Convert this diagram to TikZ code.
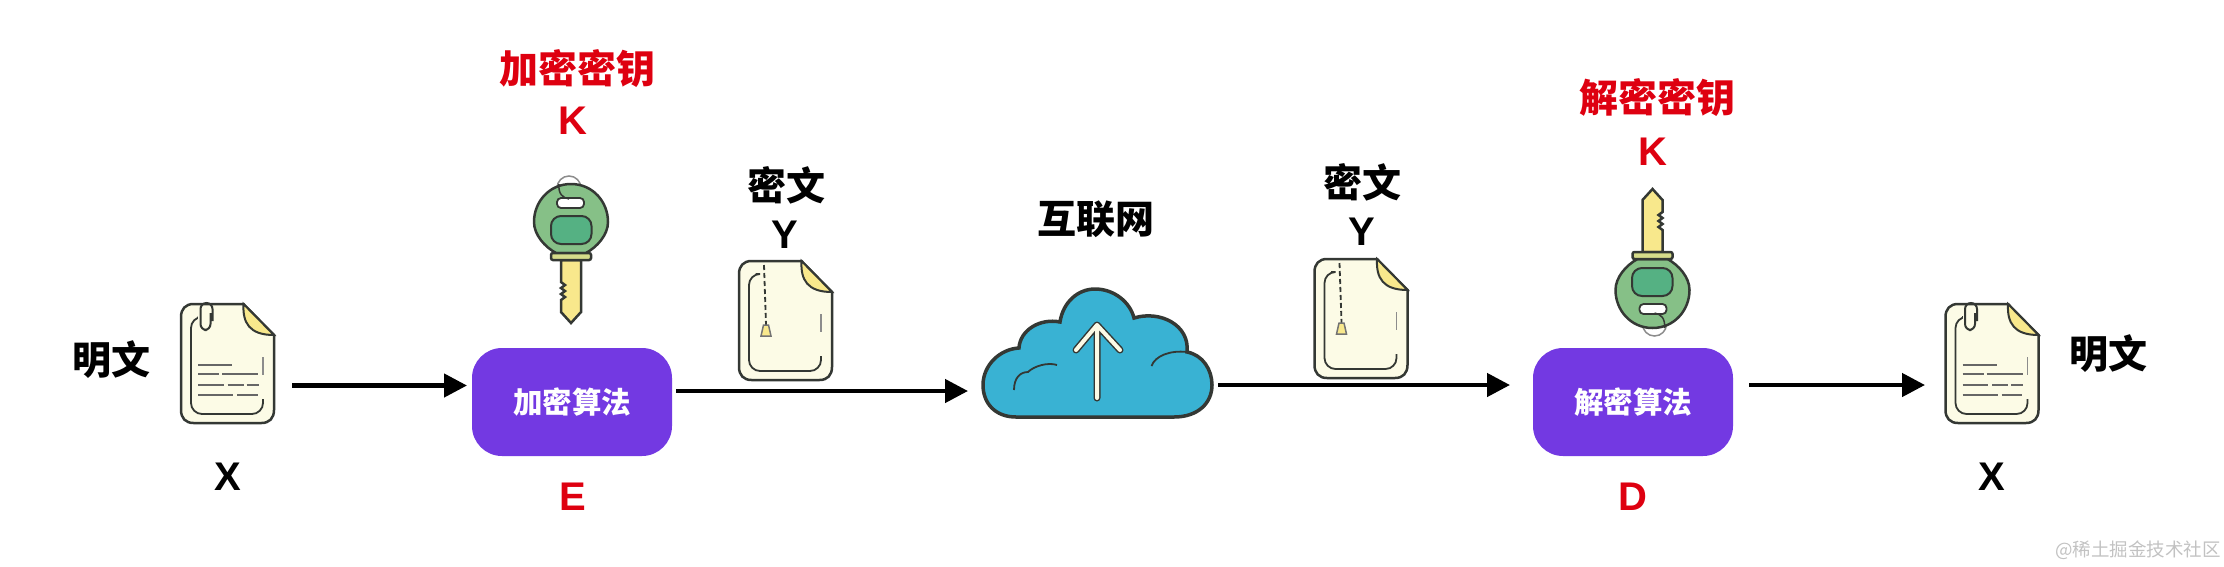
\documentclass[tikz,border=0pt]{standalone}
\usepackage{fontspec}
\usetikzlibrary{arrows.meta}
\setmainfont{Liberation Sans}
\newfontfamily\cjk{Noto Sans CJK SC}

\definecolor{algopurple}{RGB}{115,57,226}
\definecolor{keyred}{RGB}{222,0,16}
\definecolor{inkline}{RGB}{52,56,52}
\definecolor{papercream}{RGB}{252,251,230}
\definecolor{foldyellow}{RGB}{248,232,140}
\definecolor{cloudblue}{RGB}{57,178,211}
\definecolor{keygreen}{RGB}{134,192,135}
\definecolor{paneigreen}{RGB}{85,177,131}

\tikzset{
	algobox/.style={fill=algopurple,rounded corners=30pt,minimum width=200pt,minimum height=108pt,outer sep=0pt,text=white,font=\cjk\fontsize{29.5}{29.5}\selectfont\bfseries},
	docnode/.style={minimum width=93pt,minimum height=120pt,outer sep=0pt,inner sep=0pt},
	cloudnode/.style={minimum width=229pt,minimum height=129pt,outer sep=0pt,inner sep=0pt},
	keynode/.style={minimum width=76pt,minimum height=140pt,outer sep=0pt,inner sep=0pt},
	blacktext/.style={font=\cjk\fontsize{39}{39}\selectfont\bfseries},
	redtext/.style={blacktext,text=keyred},
	letter/.style={font=\fontsize{40}{40}\selectfont\bfseries},
	redletter/.style={letter,text=keyred},
	sitemark/.style={font=\cjk\fontsize{18.5}{18.5}\selectfont,text=black!24},
	flow/.style={-{Triangle[length=23pt,width=23pt]},line width=4.5pt,black},
	pics/docbase/.style={code={
		\draw[inkline,fill=papercream,line width=2.5pt] (16,-59) -- (46.5,-28) -- (46.5,47) .. controls (46.5,55) and (42,60) .. (34,60) -- (-34,60) .. controls (-42,60) and (-46.5,55) .. (-46.5,47) -- (-46.5,-46) .. controls (-46.5,-54) and (-42,-59) .. (-34,-59) -- cycle;
		\draw[inkline,fill=foldyellow,line width=2pt] (16,-59) .. controls (15,-40) and (22,-28) .. (46.5,-28) -- cycle;
		\draw[inkline,line width=1.8pt,rounded corners=11pt] (-30,-46) -- (-36.5,-46) -- (-36.5,51) -- (35.5,51) -- (35.5,36);
		\draw[black!45,line width=1.8pt] (35.5,-6) -- (35.5,12);
	}},
	pics/plaindoc/.style={code={
		\pic {docbase};
		\draw[papercream,fill=papercream,line width=5pt] (-27,-55) rectangle (-15,-32);
		\draw[inkline,line width=2pt,rounded corners=6pt] (-17,-50) -- (-17,-33) -- (-27,-33) -- (-27,-60) -- (-15,-60) -- (-15,-42);
		\foreach \xa/\xb/\ya in {-29.5/4.5/2,-29.5/-8.5/11,-5.5/30.5/11,-29.5/-4/21.5,0/16/21.5,19/31/21.5,-29.5/5.5/32,9.5/30/32}
			\draw[black!60,line width=2pt] (\xa,\ya) -- (\xb,\ya);
	}},
	pics/cipherdoc/.style={code={
		\pic {docbase};
		\draw[inkline,line width=1.8pt,dash pattern=on 5pt off 3pt] (-21.5,-55) -- (-19.5,5);
		\draw[black!55,fill=foldyellow,line width=1.5pt] (-22,5) -- (-17,5) -- (-14.5,16) -- (-24.5,16) -- cycle;
	}},
	pics/carkey/.style={code={
		\draw[black!45,line width=1.5pt] (-2,-32) circle (12);
		\draw[inkline,fill=foldyellow,line width=2.5pt] (-10,40) -- (-10,62) -- (-6,65) -- (-10,68) -- (-6,71) -- (-10,74) -- (-6,77) -- (-10,80) -- (-10,92) -- (0,103) -- (10,92) -- (10,40) -- cycle;
		\draw[inkline,fill=keygreen,line width=2.5pt] (0,-36) .. controls (22,-36) and (37,-18) .. (37,2) .. controls (37,15) and (26,27) .. (15,33) -- (-15,33) .. controls (-26,27) and (-37,15) .. (-37,2) .. controls (-37,-18) and (-22,-36) .. (0,-36) -- cycle;
		\draw[inkline,fill=foldyellow!70!keygreen,line width=2.5pt,rounded corners=2pt] (-20,33) rectangle (20,40);
		\draw[inkline,fill=white,line width=1.8pt,rounded corners=4pt] (-14,-22) rectangle (13,-12);
		\draw[inkline,line width=1.5pt] (-12,-36) .. controls (-13,-26) and (-8,-22) .. (-2,-21);
		\draw[inkline,fill=paneigreen,line width=2pt,rounded corners=10pt] (-20,-4) rectangle (20.5,24);
	}}
}

\begin{document}
\begin{tikzpicture}[x=1pt,y=-1pt]
	\useasboundingbox (0,0) rectangle (2224,566);

	\node[docnode]		(docA)	at (227.5,363)	{};
	\node[docnode]		(docB)	at (785.5,320)	{};
	\node[docnode]		(docC)	at (1361,318)	{};
	\node[docnode]		(docD)	at (1992,363)	{};
	\node[algobox]		(enc)	at (572,402)	{加密算法};
	\node[algobox]		(dec)	at (1633,402)	{解密算法};
	\node[cloudnode]	(net)	at (1097.5,353.5) {};
	\node[keynode]		(keyE)	at (571,250)	{};
	\node[keynode]		(keyD)	at (1652.5,262)	{};

	\pic at (docA)	{plaindoc};
	\pic at (docB)	{cipherdoc};
	\pic at (docC)	{cipherdoc};
	\pic at (docD)	{plaindoc};
	\pic at (571,220)	{carkey};
	\pic[rotate=180] at (1652.5,292)	{carkey};

	\draw[inkline,fill=cloudblue,line width=3.5pt] (1016,417) .. controls (995,417) and (983,403) .. (983,385) .. controls (983,365) and (1000,349) .. (1019,348) .. controls (1020,330) and (1040,318) .. (1060,322) .. controls (1063,302) and (1078,289) .. (1095,289) .. controls (1114,289) and (1130,302) .. (1134,318) .. controls (1160,310) and (1190,325) .. (1187,352) .. controls (1203,355) and (1212,370) .. (1212,385) .. controls (1212,403) and (1198,417) .. (1174,417) -- cycle;
	\draw[inkline,line width=1.8pt] (1014,390) .. controls (1014,378) and (1020,372) .. (1028,372) .. controls (1034,366) and (1048,362) .. (1057,365);
	\draw[inkline,line width=1.8pt] (1151.5,366) .. controls (1155,356) and (1170,350) .. (1187,352);
	\draw[inkline,line width=7pt,line cap=round,line join=round] (1097,398) -- (1097,325) (1076,350) -- (1097,325) -- (1120,350);
	\draw[papercream,line width=4pt,line cap=round,line join=round] (1097,398) -- (1097,325) (1076,350) -- (1097,325) -- (1120,350);

	\node[blacktext]	(plainL)	at (111,360)	{明文};
	\node[letter]		(xL)		at (228,477)	{X};
	\node[redtext]		(keyNameE)	at (577,69)		{加密密钥};
	\node[redletter]	(kE)		at (573,121)	{K};
	\node[redletter]	(algE)		at (573,497)	{E};
	\node[blacktext]	(cipherL)	at (786,185)	{密文};
	\node[letter]		(yL)		at (785,235)	{Y};
	\node[blacktext]	(netName)	at (1096,219)	{互联网};
	\node[blacktext]	(cipherR)	at (1362,182)	{密文};
	\node[letter]		(yR)		at (1362,232)	{Y};
	\node[redtext]		(keyNameD)	at (1657,98)	{解密密钥};
	\node[redletter]	(kD)		at (1653,152)	{K};
	\node[redletter]	(algD)		at (1633,497)	{D};
	\node[blacktext]	(plainR)	at (2108,354)	{明文};
	\node[letter]		(xR)		at (1992,477)	{X};
	\node[sitemark]		(site)		at (2138,550)	{@稀土掘金技术社区};

	\coordinate (flowA) at (292,385.5);
	\coordinate (flowB) at (676,391);
	\coordinate (flowC) at (1218,385);
	\coordinate (flowD) at (1749,385);

	\path	(flowA)	edge[flow,shorten >=5pt]	(flowA -| enc.west);
	\path	(flowB)	edge[flow,shorten >=15pt]	(flowB -| net.west);
	\path	(flowC)	edge[flow,shorten >=23pt]	(flowC -| dec.west);
	\path	(flowD)	edge[flow,shorten >=20.5pt]	(flowD -| docD.west);
\end{tikzpicture}
\end{document}
